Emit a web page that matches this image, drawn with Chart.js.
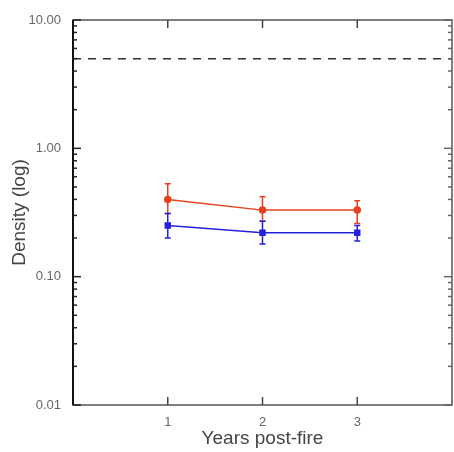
<!DOCTYPE html>
<html>
<head>
<meta charset="utf-8">
<script src="https://cdn.jsdelivr.net/npm/chart.js@4/dist/chart.umd.min.js"></script>
<style>
  html, body { margin: 0; padding: 0; background: #fff; overflow: hidden; }
  canvas { display: block; }
</style>
</head>
<body>
<canvas id="densityChart" width="454" height="452"></canvas>
<script>
// values
const years = [1, 2, 3];
const redMean = [0.40, 0.33, 0.33];
const redLow = [0.31, 0.27, 0.26];
const redHigh = [0.53, 0.42, 0.39];
const blueMean = [0.25, 0.22, 0.22];
const blueLow = [0.20, 0.18, 0.19];
const blueHigh = [0.31, 0.27, 0.25];
const refLevel = 5;
const xTicks = [1, 2, 3];
const yMajor = [0.01, 0.1, 1, 10];

const RED = '#e8401c';
const BLUE = '#2222dd';

// all log ticks, 1..9 per decade
function logTicks() {
  const out = [];
  for (let i = 0; i < yMajor.length; i++) {
    const base = yMajor[i];
    out.push(base);
    if (i < yMajor.length - 1) {
      for (let m = 2; m <= 9; m++) out.push(+(base * m).toPrecision(3));
    }
  }
  return out;
}

const errorBars = {
  id: 'errorBars',
  afterDatasetsDraw(chart) {
    const ctx = chart.ctx;
    const xs = chart.scales.x, ys = chart.scales.y;
    const sets = [[redLow, redHigh, RED], [blueLow, blueHigh, BLUE]];
    ctx.save();
    ctx.lineWidth = 1.5;
    sets.forEach(([lo, hi, col]) => {
      ctx.strokeStyle = col;
      years.forEach((yr, i) => {
        const px = xs.getPixelForValue(yr);
        const p1 = ys.getPixelForValue(lo[i]);
        const p2 = ys.getPixelForValue(hi[i]);
        ctx.beginPath();
        ctx.moveTo(px, p1); ctx.lineTo(px, p2);
        ctx.moveTo(px - 3, p1); ctx.lineTo(px + 3, p1);
        ctx.moveTo(px - 3, p2); ctx.lineTo(px + 3, p2);
        ctx.stroke();
      });
    });
    ctx.restore();
  }
};

const frame = {
  id: 'frame',
  afterDraw(chart) {
    const ctx = chart.ctx;
    const a = chart.chartArea;
    const xs = chart.scales.x, ys = chart.scales.y;
    ctx.save();
    ctx.strokeStyle = '#555';
    ctx.lineWidth = 1.5;
    ctx.strokeRect(a.left, a.top, a.right - a.left, a.bottom - a.top);
    ctx.strokeStyle = '#111';
    ctx.lineWidth = 2;
    ctx.beginPath();
    ctx.moveTo(a.left, a.top); ctx.lineTo(a.left, a.bottom);
    ctx.stroke();
    // inward ticks on y, both sides
    ctx.lineWidth = 1.5;
    logTicks().forEach(v => {
      const py = ys.getPixelForValue(v);
      const len = yMajor.includes(v) ? 8 : 4;
      ctx.strokeStyle = '#222';
      ctx.beginPath();
      ctx.moveTo(a.left, py); ctx.lineTo(a.left + len, py);
      ctx.stroke();
      ctx.strokeStyle = '#666';
      ctx.beginPath();
      ctx.moveTo(a.right, py); ctx.lineTo(a.right - len, py);
      ctx.stroke();
    });
    // inward ticks on x, bottom and top
    ctx.strokeStyle = '#444';
    xTicks.forEach(v => {
      const px = xs.getPixelForValue(v);
      ctx.beginPath();
      ctx.moveTo(px, a.bottom); ctx.lineTo(px, a.bottom - 8);
      ctx.moveTo(px, a.top); ctx.lineTo(px, a.top + 8);
      ctx.stroke();
    });
    ctx.restore();
  }
};

const tickFont = { family: 'Liberation Sans, Arial, sans-serif', size: 13 };
const titleFont = { family: 'Liberation Sans, Arial, sans-serif', size: 19 };

new Chart(document.getElementById('densityChart').getContext('2d'), {
  type: 'line',
  data: {
    datasets: [
      {
        label: 'reference',
        data: [{ x: 0, y: refLevel }, { x: 4, y: refLevel }],
        borderColor: '#333',
        borderWidth: 1.5,
        borderDash: [8, 7],
        pointRadius: 0
      },
      {
        label: 'red',
        data: years.map((x, i) => ({ x, y: redMean[i] })),
        borderColor: RED,
        backgroundColor: RED,
        borderWidth: 1.5,
        pointRadius: 3,
        pointStyle: 'circle'
      },
      {
        label: 'blue',
        data: years.map((x, i) => ({ x, y: blueMean[i] })),
        borderColor: BLUE,
        backgroundColor: BLUE,
        borderWidth: 1.5,
        pointRadius: 3.5,
        pointStyle: 'rect'
      }
    ]
  },
  options: {
    responsive: false,
    animation: false,
    layout: { autoPadding: false, padding: { top: 20, right: 2, left: 0, bottom: 0 } },
    plugins: { legend: { display: false }, tooltip: { enabled: false } },
    scales: {
      x: {
        type: 'linear',
        min: 0,
        max: 4,
        afterBuildTicks: s => { s.ticks = xTicks.map(v => ({ value: v })); },
        afterFit: s => { s.height = 47; s.paddingLeft = 0; s.paddingRight = 0; },
        grid: { display: false },
        border: { display: false },
        ticks: { color: '#666', font: tickFont, padding: 2 },
        title: { display: true, text: 'Years post-fire', color: '#444', font: titleFont, padding: { top: 0, bottom: 2 } }
      },
      y: {
        type: 'logarithmic',
        min: 0.01,
        max: 10,
        afterBuildTicks: s => { s.ticks = logTicks().map(v => ({ value: v })); },
        afterFit: s => { s.width = 73; },
        grid: { display: false },
        border: { display: false },
        ticks: {
          autoSkip: false,
          color: '#666',
          font: tickFont,
          padding: 4,
          callback: v => yMajor.includes(v) ? v.toFixed(2) : ''
        },
        title: { display: true, text: 'Density (log)', color: '#444', font: titleFont, padding: { top: 8, bottom: 0 } }
      }
    }
  },
  plugins: [errorBars, frame]
});
</script>
</body>
</html>
